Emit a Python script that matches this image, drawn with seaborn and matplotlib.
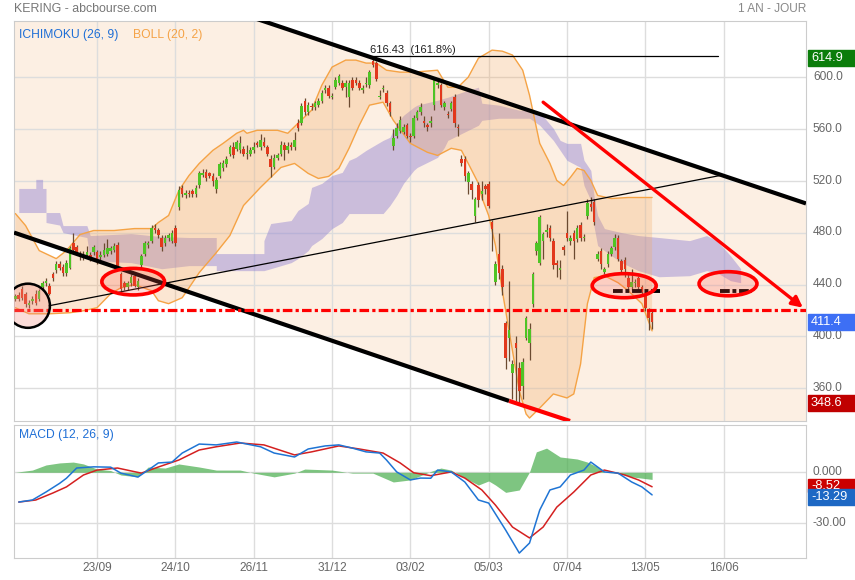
import numpy as np
import pandas as pd
import matplotlib
matplotlib.use("Agg")
import matplotlib.pyplot as plt
import matplotlib.transforms as mtransforms
from matplotlib.patches import Ellipse, Polygon, Rectangle
import seaborn as sns

sns.set_style("white")
plt.rcParams['font.family'] = ['Liberation Sans', 'DejaVu Sans']

# daily candles, index 0 = first session shown (23/09 is index 24)
opens = [429, 432, 437, 433, 424.5, 427, 433, 429, 438, 441, 439, 448, 451, 456, 454, 449, 453, 472, 469, 464,
         461, 463, 463, 465, 465, 461, 463, 464, 466, 467, 471, 448, 441, 438, 441, 447, 438, 455, 464, 471,
         474, 484, 482, 476, 472, 476, 474, 484, 500, 515, 509, 511, 512, 510, 517, 525, 527, 526, 524, 514,
         524, 530, 533, 541, 546, 545, 544, 545, 541, 541, 544, 549, 546, 550, 546, 537, 531, 538, 541, 548,
         544, 548, 546, 565, 565, 582, 573, 578, 577, 579, 582, 590, 592, 585, 593, 596, 596, 593, 585, 598,
         598, 596, 590, 595, 594, 613, 611, 585, 591, 588, 580, 547, 555, 559, 558, 563, 555, 555, 569, 573,
         566, 563, 565, 579, 594, 594, 577, 572, 576, 585, 562, 537, 537, 519, 518, 493, 517, 510, 516, 518,
         488, 442, 464, 452, 410, 399, 372, 395, 376, 362, 399, 395, 425, 466, 457, 474, 481, 484, 474, 457,
         451, 469, 480, 474, 480, 475, 486, 476, 493, 502, 504, 460, 466, 450, 456, 464, 469, 476, 458, 459,
         445, 438, 441, 445, 438, 433, 420, 418]
closes = [431, 429, 430, 425, 426, 429, 426, 435, 441, 443, 433, 445, 456, 453, 449, 457, 468, 467, 465, 461,
          463, 465, 461, 469, 460, 463, 467, 468, 468, 470, 453, 437, 438, 441, 446, 439, 443, 462, 472, 472,
          484, 482, 478, 469, 476, 478, 480, 472, 513, 510, 511, 510, 510, 515, 526, 526, 522, 524, 520, 521,
          533, 534, 537, 546, 540, 550, 549, 541, 542, 544, 546, 548, 552, 547, 541, 531, 538, 540, 548, 544,
          547, 546, 552, 561, 578, 573, 579, 577, 580, 582, 588, 592, 586, 586, 598, 601, 592, 596, 596, 592,
          596, 592, 592, 596, 604, 610, 599, 586, 592, 580, 573, 553, 561, 567, 562, 555, 554, 569, 573, 577,
          565, 562, 566, 598, 596, 579, 580, 571, 580, 565, 561, 534, 524, 526, 513, 506, 505, 512, 514, 501,
          483, 456, 449, 438, 383, 405, 379, 391, 358, 380, 414, 406, 448, 472, 492, 479, 482, 476, 455, 455,
          453, 467, 476, 476, 474, 484, 476, 477, 503, 500, 488, 464, 456, 452, 464, 468, 476, 460, 451, 452,
          438, 442, 441.5, 438, 434, 422, 414, 411.4]
highs = [433, 434, 439, 434, 428, 431, 436, 437, 443, 445, 441, 450, 458, 458, 456, 459, 470, 480, 471, 466,
         466, 470, 465, 471, 467, 466, 472, 475, 470, 472, 473, 450, 443, 443, 448, 449, 445, 464, 474, 474,
         486, 487, 484, 478, 478, 480, 482, 486, 516, 517, 513, 513, 514, 517, 528, 529, 529, 527, 526, 523,
         535, 536, 539, 548, 550, 552, 555, 547, 548, 546, 550, 551, 556, 554, 548, 540, 541, 542, 551, 550,
         550, 550, 558, 568, 580, 584, 581, 580, 582, 584, 590, 594, 594, 588, 600, 603, 598, 598, 598, 600,
         600, 598, 594, 600, 606, 614.9, 613, 590, 594, 590, 582, 560, 565, 570, 564, 565, 557, 571, 575, 580,
         570, 565, 570, 600, 598, 596, 582, 574, 582, 587, 564, 540, 539, 528, 520, 508, 519, 520, 518, 520,
         490, 458, 480, 455, 412, 443, 382, 400, 380, 383, 416, 410, 450, 474, 494, 481, 487, 486, 476, 459,
         459, 471, 497, 478, 482, 486, 488, 479, 506, 508, 506, 466, 468, 454, 466, 470, 479, 478, 460, 461,
         449, 452, 444, 447, 440, 435, 422, 420]
lows = [427, 427, 428, 423, 422, 425, 424, 427, 436, 439, 432, 443, 449, 451, 447, 447, 452, 466, 464, 459,
        459, 461, 458, 463, 456, 459, 461, 462, 464, 465, 451, 434, 436, 436, 439, 438, 436, 453, 462, 468,
        472, 480, 476, 466, 470, 474, 472, 470, 498, 508, 507, 508, 508, 508, 515, 523, 520, 522, 516, 511,
        522, 528, 531, 539, 538, 543, 542, 539, 537, 539, 542, 546, 544, 546, 539, 523, 529, 536, 539, 536,
        542, 544, 544, 559, 563, 571, 571, 575, 575, 577, 580, 588, 584, 583, 591, 594, 590, 585, 577, 590,
        594, 590, 588, 593, 592, 608, 597, 583, 589, 578, 570, 544, 553, 557, 556, 553, 550, 553, 567, 571,
        562, 559, 562, 575, 592, 577, 575, 569, 574, 562, 555, 532, 520, 510, 506, 488, 500, 505, 510, 499,
        466, 440, 444, 432, 375, 381, 352, 350, 348.6, 352, 397, 382, 423, 463, 455, 460, 477, 474, 452, 446,
        444, 463, 474, 471, 460, 473, 474, 474, 491, 497, 486, 458, 452, 448, 454, 462, 467, 458, 449, 446,
        436, 436, 438, 436, 432, 420, 405, 406]

# Bollinger bands (20, 2)
boll_up_idx = [0, 3, 7, 12, 15, 19, 23, 29, 35, 40, 42, 45, 48, 51, 54, 58, 61, 65, 67, 68, 71, 77, 80, 83,
               87, 90, 93, 97, 100, 103, 106, 109, 113, 117, 124, 127, 130, 133, 136, 140, 143, 146, 149, 151,
               154, 157, 159, 161, 163, 165, 167, 169, 171, 175, 180, 184, 187]
boll_up = [494.9, 485.6, 466.3, 460.1, 466.3, 478.7, 481.8, 481.8, 483.3, 483.3, 488.0, 493.4, 512.7, 524.3,
           533.6, 543.7, 549.1, 556.9, 559.2, 556.9, 559.2, 559.2, 556.9, 564.6, 574.7, 594.0, 608.0, 613.4,
           613.4, 611.1, 611.1, 605.6, 604.1, 604.1, 605.6, 592.5, 592.5, 600.2, 614.9, 621.1, 620.3, 617.3,
           605.6, 586.3, 549.1, 533.6, 520.5, 516.6, 522.8, 529.8, 528.2, 520.5, 508.9, 506.5, 507.3, 507.3,
           507.3]
boll_lo_idx = [0, 4, 10, 16, 20, 24, 28, 31, 35, 40, 42, 45, 49, 51, 54, 59, 63, 67, 72, 78, 82, 86, 89, 92,
               95, 98, 101, 104, 108, 111, 116, 121, 124, 128, 131, 133, 136, 137, 139, 141, 143, 145, 148,
               150, 151, 154, 158, 162, 164, 166, 168, 170, 173, 177, 180, 184, 187]
boll_lo = [422.2, 417.5, 417.5, 418.3, 419.8, 422.2, 433.0, 437.6, 440.0, 435.3, 427.6, 425.3, 429.9, 437.6,
           449.3, 464.7, 477.9, 501.1, 515.1, 530.5, 533.6, 525.9, 522.0, 523.6, 529.8, 545.3, 563.1, 578.6,
           580.9, 566.9, 549.1, 542.2, 539.8, 545.3, 543.7, 533.6, 518.2, 507.3, 493.4, 470.2, 435.3, 404.3,
           357.9, 340.1, 337.0, 344.7, 355.6, 352.5, 355.6, 378.8, 425.3, 445.4, 446.9, 441.5, 435.3, 425.3,
           404.3]

# Ichimoku cloud (26, 9), drawn 26 sessions ahead
cloud_idx = [1, 6, 6, 8, 8, 9, 9, 13, 14, 21, 22, 34, 43, 51, 59, 59, 73, 73, 75, 81, 83, 86, 87, 90, 93, 96,
             98, 100, 103, 108, 110, 112, 114, 117, 118, 124, 126, 127, 133, 136, 137, 142, 148, 151, 154, 158,
             160, 162, 166, 167, 169, 170, 171, 173, 178, 183, 189, 198, 203, 206, 210, 213]
cloud_top = [514.3, 514.3, 521.3, 521.3, 514.3, 514.3, 495.7, 495.7, 485.6, 485.6, 477.9, 479.4, 477.1, 476.4,
             476.4, 464.0, 464.0, 474.0, 487.2, 489.5, 497.3, 502.7, 515.1, 518.2, 524.3, 526.7, 536.0, 538.3,
             543.7, 551.4, 553.8, 564.6, 570.8, 577.0, 578.6, 582.4, 584.0, 584.7, 590.2, 592.5, 580.1, 578.6,
             574.7, 574.7, 573.1, 560.7, 551.4, 549.1, 549.1, 536.0, 528.2, 507.3, 493.4, 483.3, 480.2, 477.9,
             476.4, 474.0, 477.9, 474.0, 462.4, 452.3]
cloud_bot = [495.7, 495.7, 495.7, 495.7, 495.7, 495.7, 488.0, 486.0, 480.2, 476.4, 458.5, 457.0, 452.3, 454.7,
             454.7, 450.8, 450.8, 450.8, 452.3, 457.0, 460.1, 466.3, 470.2, 475.6, 483.3, 488.0, 494.9, 494.9,
             494.9, 494.9, 501.1, 508.9, 518.2, 528.2, 530.5, 538.3, 546.0, 551.4, 559.2, 563.1, 566.9, 568.5,
             568.5, 568.5, 563.1, 551.4, 543.7, 536.0, 530.5, 516.6, 505.0, 484.1, 470.2, 466.3, 457.0, 450.8,
             446.1, 446.9, 450.8, 449.3, 443.1, 441.5]

# MACD (12, 26, 9)
macd_idx = [1, 5, 9, 13, 15, 18, 23, 28, 31, 36, 39, 42, 46, 49, 54, 59, 65, 72, 76, 82, 86, 91, 95, 99, 103,
            107, 109, 112, 116, 119, 122, 124, 128, 132, 136, 139, 144, 148, 151, 154, 157, 160, 163, 167, 169,
            173, 177, 181, 184, 187]
macd = [-17.5, -16.3, -11.6, -6.5, -3.5, 2.5, 3.2, 3.0, -0.5, -2.8, 1.3, 5.5, 6.0, 11.3, 16.6, 16.1, 17.8, 15.0,
        11.3, 9.0, 13.7, 15.5, 16.1, 14.2, 12.0, 11.3, 7.2, 0.2, -4.5, -3.4, -3.5, 1.3, 0.2, -5.7, -16.3, -18.1,
        -34.0, -47.5, -41.6, -22.2, -10.4, -8.6, -1.6, 1.3, 6.0, 0.2, -0.5, -5.7, -8.6, -13.29]
signal_idx = [1, 6, 11, 15, 20, 24, 30, 37, 42, 48, 54, 59, 66, 73, 82, 87, 95, 101, 108, 113, 117, 122, 128,
              132, 137, 141, 146, 151, 155, 159, 164, 169, 173, 179, 183, 187]
signal = [-17.5, -16.3, -12.2, -8.6, -1.6, 1.3, 2.5, -0.5, 3.1, 7.2, 13.1, 15.0, 17.2, 16.1, 10.2, 12.0, 15.5,
          13.7, 11.3, 5.5, -0.3, -2.0, 0.2, -3.4, -10.4, -19.3, -32.2, -38.6, -32.2, -20.5, -11.6, -1.6, 1.3,
          -1.6, -4.5, -8.52]
hist_idx = [0, 5, 9, 13, 17, 20, 24, 28, 31, 36, 39, 44, 48, 54, 59, 66, 70, 76, 82, 85, 93, 99, 105, 111, 116,
            122, 125, 128, 132, 136, 139, 141, 144, 148, 151, 153, 156, 160, 165, 168, 171, 173, 177, 181, 187]
hist = [0, 1.3, 4.3, 5.5, 6.0, 4.9, 1.9, 1.0, -1.6, -2.7, 3.1, 2.5, 4.9, 3.1, 1.3, 1.3, -0.5, -2.7, -0.5, 1.9,
        1.3, -0.5, -0.5, -5.7, -4.5, 0.5, 2.5, 1.3, -3.4, -7.5, -5.1, -7.5, -11.8, -10.4, 0.2, 12.0, 14.2, 9.0,
        7.8, 6.0, 3.1, 0, -0.5, -2.7, -4.2]

date_ticks = [24, 47, 70, 93, 116, 139, 162, 185, 208]
date_labels = ["23/09", "24/10", "26/11", "31/12", "03/02", "05/03", "07/04", "13/05", "16/06"]
price_ticks = [360, 400, 440, 480, 520, 560, 600]
macd_ticks = [0, -30]
macd_tick_labels = ["0.000", "-30.00"]

# drawn objects (index, price)
chan_upper = [(-0.4, 708.2), (232.2, 502.7)]
chan_lower = [(-0.4, 480.2), (145.0, 350.2)]
chan_lower_red = [(145.0, 350.2), (162.9, 334.7)]
thin_line = [(9.9, 423.7), (207.0, 524.3)]
fib_level = 616.43
fib_span = (104.2, 206.4)
support = 420.6
arrow_from = (155.0, 580.9)
arrow_to = (231.3, 422.2)
dash_level = 435.3
dash_spans = [(175.5, 189.3), (206.9, 216.4)]
ellipses = [(34.6, 442.3, 18.4, 20.5), (178.8, 439.2, 18.8, 18.6), (209.3, 440.7, 17.0, 18.6)]
circle = (3.7, 423.7, 12.9, 34.1)

df = pd.DataFrame({"i": np.arange(len(opens)), "open": opens, "close": closes, "high": highs, "low": lows})

W, H = 855, 580
fig = plt.figure(figsize=(W / 100, H / 100), dpi=100)
ax = fig.add_axes([14 / W, 1 - 421 / H, 792 / W, 400 / H])
axm = fig.add_axes([14 / W, 1 - 558 / H, 792 / W, 133 / H], sharex=ax)

xmin, xmax = -0.4, 232.2
ax.set_xlim(xmin, xmax)
ax.set_ylim(334.7, 643.6)
axm.set_ylim(-50.4, 27.8)

# channel between the two thick lines
def line_y(pts, x):
    (x0, y0), (x1, y1) = pts
    return y0 + (y1 - y0) * (x - x0) / (x1 - x0)

xs = np.array([xmin, xmax])
poly = np.column_stack([np.r_[xs, xs[::-1]],
                        np.r_[line_y(chan_lower, xs), line_y(chan_upper, xs[::-1])]])
ax.add_patch(Polygon(poly, closed=True, facecolor="#f9d9b9", alpha=0.4, edgecolor="none", zorder=0.5))

# Ichimoku cloud
ax.fill_between(cloud_idx, cloud_bot, cloud_top, color="#8878d0", alpha=0.42, lw=0, zorder=1)

# Bollinger
bpoly = np.column_stack([np.r_[boll_up_idx, boll_lo_idx[::-1]], np.r_[boll_up, boll_lo[::-1]]])
ax.add_patch(Polygon(bpoly, closed=True, facecolor="#f4a860", alpha=0.28, edgecolor="none", zorder=1.1))
sns.lineplot(x=boll_up_idx, y=boll_up, ax=ax, color="#f5a345", lw=1, estimator=None, zorder=1.2)
sns.lineplot(x=boll_lo_idx, y=boll_lo, ax=ax, color="#f5a345", lw=1, estimator=None, zorder=1.2)

# candles
up = df["close"] >= df["open"]
body = (df["close"] - df["open"]).abs().clip(lower=0.9)
bottom = df[["open", "close"]].min(axis=1)
ax.vlines(df["i"], df["low"], df["high"], color="#6b4a30", lw=0.9, zorder=3)
ax.bar(df["i"], body, bottom=bottom, width=0.75,
       color=np.where(up, "#4fc425", "#e2381c"), lw=0, zorder=3.1)

# trend lines and markings
ax.plot(*zip(*chan_upper), color="black", lw=3, solid_capstyle="butt", zorder=4)
ax.plot(*zip(*chan_lower), color="black", lw=3, solid_capstyle="butt", zorder=4)
ax.plot(*zip(*chan_lower_red), color="#ff0000", lw=3, solid_capstyle="butt", zorder=4)
ax.plot(*zip(*thin_line), color="black", lw=0.9, zorder=4)
ax.plot(fib_span, [fib_level, fib_level], color="black", lw=0.9, zorder=4)
ax.text(fib_span[0], fib_level + 0.8, "616.43  (161.8%)", fontsize=8, color="#222222", va="bottom", zorder=4)
ax.axhline(support, color="#ff0000", lw=2.3, linestyle=(0, (3, 1, 1, 1)), zorder=4)
for a, b in dash_spans:
    ax.plot([a, b], [dash_level, dash_level], color="black", lw=2.8, linestyle=(0, (2.5, 0.7, 1, 0.7)), zorder=4)
ax.annotate("", xy=arrow_to, xytext=arrow_from,
            arrowprops=dict(arrowstyle="-|>", color="#ff0000", lw=2.4, mutation_scale=16,
                            shrinkA=0, shrinkB=0), zorder=5)
for cx, cy, ew, eh in ellipses:
    ax.add_patch(Ellipse((cx, cy), ew, eh, facecolor=(1, 0.35, 0.3, 0.22), edgecolor="#ff0000", lw=2.6, zorder=5))
cx, cy, ew, eh = circle
ax.add_patch(Ellipse((cx, cy), ew, eh, facecolor=(0.95, 0.55, 0.5, 0.3), edgecolor="black", lw=1.8, zorder=5))

# MACD panel
axm.fill_between(hist_idx, hist, 0, color="#4caf50", alpha=0.72, lw=0, zorder=1)
sns.lineplot(x=signal_idx, y=signal, ax=axm, color="#d42020", lw=1.1, estimator=None, zorder=2)
sns.lineplot(x=macd_idx, y=macd, ax=axm, color="#1f74d4", lw=1.1, estimator=None, zorder=2.1)

# axes styling
for a in (ax, axm):
    a.set_axisbelow(True)
    a.grid(True, color="#dddddd", lw=1)
    for s in a.spines.values():
        s.set_color("#cccccc")
    a.yaxis.tick_right()
    a.tick_params(length=0, labelsize=8.6, labelcolor="#666666", pad=5)
    a.set_xlabel("")
    a.set_ylabel("")
ax.set_xticks(date_ticks)
ax.tick_params(axis="x", labelbottom=False)
axm.set_xticklabels(date_labels)
axm.tick_params(axis="x", pad=3)
ax.set_yticks(price_ticks)
ax.set_yticklabels([f"{v:.1f}" for v in price_ticks])
axm.set_yticks(macd_ticks)
axm.set_yticklabels(macd_tick_labels)
# lift the y labels a couple of pixels above their grid line
lift = mtransforms.ScaledTranslation(0, 2 / 100, fig.dpi_scale_trans)
for a in (ax, axm):
    for lab in a.get_yticklabels():
        lab.set_transform(lab.get_transform() + lift)

# value badges on the right (shift in pixels keeps the overlapping pair apart)
def badge(a, value, text, color, h_px, shift_px=0):
    tr = mtransforms.blended_transform_factory(fig.transFigure, a.transData)
    y0, y1 = a.get_ylim()
    per_px = (y1 - y0) / (a.get_position().height * H)
    yc = value + shift_px * per_px
    hh = h_px * per_px
    a.add_patch(Rectangle((808 / W, yc - hh / 2), 47 / W, hh, transform=tr, color=color,
                          clip_on=False, zorder=10))
    a.text(811 / W, yc, text, transform=tr, color="white", fontsize=9.2, va="center",
           ha="left", clip_on=False, zorder=11)

badge(ax, 614.9, "614.9", "#0b7d0b", 16)
badge(ax, 411.4, "411.4", "#3d6ff5", 16)
badge(ax, 348.6, "348.6", "#c00000", 16)
badge(axm, -8.52, "-8.52", "#cc0000", 13, shift_px=1)
badge(axm, -13.29, "-13.29", "#1d68c4", 16, shift_px=-2.5)

ax.text(5 / 792, 1 - 8 / 400, "ICHIMOKU (26, 9)", transform=ax.transAxes, color="#1f6fd6", fontsize=8.7, va="top")
ax.text(119 / 792, 1 - 8 / 400, "BOLL (20, 2)", transform=ax.transAxes, color="#f5a347", fontsize=8.7, va="top")
axm.text(5 / 792, 1 - 4 / 133, "MACD (12, 26, 9)", transform=axm.transAxes, color="#1f6fd6", fontsize=8.7, va="top")
fig.text(14 / W, 1 - 9 / H, "KERING - abcbourse.com", color="#777777", fontsize=8.9, va="center")
fig.text(806 / W, 1 - 9 / H, "1 AN - JOUR", color="#888888", fontsize=8.6, va="center", ha="right")

fig.savefig("out.png", dpi=100)
